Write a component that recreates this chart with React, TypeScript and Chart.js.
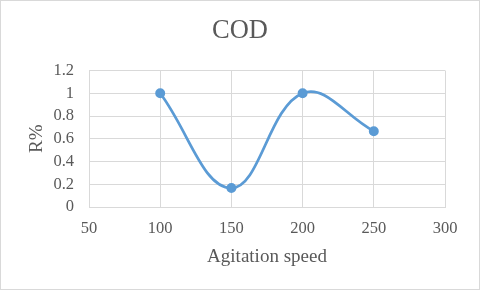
import React, { useEffect, useRef } from "react";
import { Chart, registerables } from "chart.js";

Chart.register(...registerables);

const chartTitle = "COD";
const xAxisTitle = "Agitation speed";
const yAxisTitle = "R%";
const speeds = [100, 150, 200, 250];
const removal = [1, 0.1667, 1, 0.6667];
const xMin = 50;
const xMax = 300;
const xStep = 50;
const yMin = 0;
const yMax = 1.2;
const yStep = 0.2;

const FONT = "'Liberation Serif', 'Times New Roman', serif";
const TEXT = "#595959";
const GRID = "#d9d9d9";
const BLUE = "#5b9bd5";

const frame = {
  id: "frame",
  beforeDraw(chart: any) {
    const { ctx, width, height } = chart;
    ctx.save();
    ctx.fillStyle = "#ffffff";
    ctx.fillRect(0, 0, width, height);
    ctx.strokeStyle = GRID;
    ctx.lineWidth = 1;
    ctx.strokeRect(0.5, 0.5, width - 1, height - 1);
    ctx.restore();
  },
};

export default function App() {
  const ref = useRef<HTMLCanvasElement>(null);
  useEffect(() => {
    if (!ref.current) return;
    const chart = new Chart(ref.current, {
      type: "line",
      data: {
        datasets: [
          {
            data: speeds.map((x, i) => ({ x, y: removal[i] })),
            borderColor: BLUE,
            backgroundColor: BLUE,
            borderWidth: 2.75,
            pointRadius: 4,
            pointBorderWidth: 2,
            pointBackgroundColor: BLUE,
            pointBorderColor: BLUE,
            tension: 0.4,
            fill: false,
          },
        ],
      },
      options: {
        animation: false,
        responsive: false,
        layout: { padding: 0 },
        plugins: {
          legend: { display: false },
          tooltip: { enabled: false },
          title: {
            display: true,
            text: chartTitle,
            color: TEXT,
            font: { family: FONT, size: 26.5, weight: "normal" },
            padding: { top: 15.6, bottom: 23.1 },
          },
        },
        scales: {
          x: {
            type: "linear",
            min: xMin,
            max: xMax,
            afterFit: (s: any) => {
              s.height = 83;
            },
            ticks: {
              stepSize: xStep,
              color: TEXT,
              padding: 12,
              font: { family: FONT, size: 16.5 },
              maxRotation: 0,
              autoSkip: false,
            },
            grid: { color: GRID, drawTicks: false, lineWidth: 1 },
            border: { color: GRID },
            title: {
              display: true,
              text: xAxisTitle,
              color: TEXT,
              font: { family: FONT, size: 19 },
              padding: { top: 0, bottom: 21.6 },
            },
          },
          y: {
            type: "linear",
            min: yMin,
            max: yMax,
            afterFit: (s: any) => {
              s.width = 89;
            },
            ticks: {
              stepSize: yStep,
              color: TEXT,
              padding: 15,
              font: { family: FONT, size: 16.5 },
              autoSkip: false,
              callback: (v: any) => String(Math.round(Number(v) * 10) / 10),
            },
            grid: { color: GRID, drawTicks: false, lineWidth: 1 },
            border: { color: GRID },
            title: {
              display: true,
              text: yAxisTitle,
              color: TEXT,
              font: { family: FONT, size: 19 },
              padding: { top: 25.6, bottom: 0 },
            },
          },
          spacer: {
            type: "linear",
            position: "right",
            min: 0,
            max: 1,
            afterFit: (s: any) => {
              s.width = 35;
            },
            ticks: { display: false },
            grid: { display: false, drawTicks: false },
            border: { display: false },
          },
        },
      },
      plugins: [frame],
    });
    return () => chart.destroy();
  }, []);
  return (
    <div style={{ position: "absolute", left: 0, top: 0, width: 480, height: 290 }}>
      <canvas ref={ref} width={480} height={290} style={{ display: "block", width: 480, height: 290 }} />
    </div>
  );
}
